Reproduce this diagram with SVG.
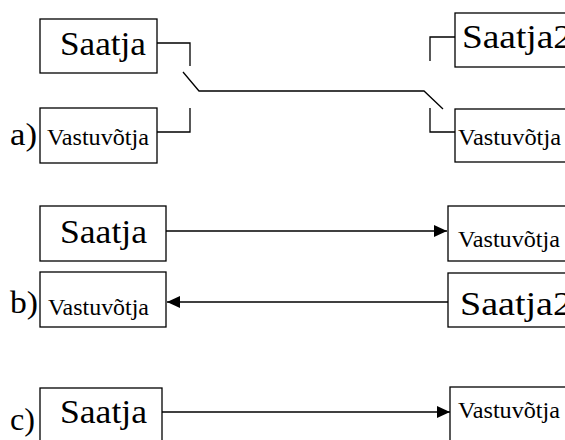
<svg xmlns="http://www.w3.org/2000/svg" width="565" height="440" viewBox="0 0 565 440">
<style>
.box{fill:#fff;stroke:#000;stroke-width:1.3}
.ln{fill:none;stroke:#000;stroke-width:1.3}
.big{font-family:"Liberation Serif","Times New Roman",serif;font-size:33px;fill:#000}
.small{font-family:"Liberation Serif","Times New Roman",serif;font-size:23px;fill:#000}
.lbl{font-family:"Liberation Serif","Times New Roman",serif;font-size:31px;fill:#000}
</style>
<defs>
<marker id="arr" markerUnits="userSpaceOnUse" markerWidth="14" markerHeight="12" refX="13" refY="6" orient="auto">
<path d="M0,0 L13,6 L0,12 z" fill="#000"/>
</marker>
</defs>
<g id="connectors">
<polyline class="ln" points="157,43 190,43 190,66"/>
<polyline class="ln" points="157,132 190,132 190,108"/>
<polyline class="ln" points="183,72 199,91 424,91 443,109"/>
<polyline class="ln" points="455,37 430,37 430,61"/>
<polyline class="ln" points="455,132 430,132 430,108"/>
<line class="ln" x1="166" y1="231" x2="447" y2="231" marker-end="url(#arr)"/>
<line class="ln" x1="448" y1="302" x2="167" y2="302" marker-end="url(#arr)"/>
<line class="ln" x1="162" y1="412" x2="450" y2="412" marker-end="url(#arr)"/>
</g>
<g id="labels">
<text class="lbl" x="10" y="145" textLength="27" lengthAdjust="spacingAndGlyphs">a)</text>
<text class="lbl" x="10" y="313" textLength="28" lengthAdjust="spacingAndGlyphs">b)</text>
<text class="lbl" x="10" y="430" textLength="25" lengthAdjust="spacingAndGlyphs">c)</text>
</g>
<g id="a-saatja">
<rect class="box" x="40" y="19" width="117" height="54"/>
<text class="big" x="60" y="55" textLength="86" lengthAdjust="spacingAndGlyphs">Saatja</text>
</g>
<g id="a-vastuvotja">
<rect class="box" x="40" y="108" width="117" height="55"/>
<text class="small" x="47" y="145" textLength="102" lengthAdjust="spacingAndGlyphs">Vastuvõtja</text>
</g>
<g id="a-saatja2">
<rect class="box" x="455" y="13" width="130" height="54"/>
<text class="big" x="462" y="48" textLength="110" lengthAdjust="spacingAndGlyphs">Saatja2</text>
</g>
<g id="a-vastuvotja2">
<rect class="box" x="455" y="109" width="130" height="53"/>
<text class="small" x="458" y="145" textLength="103" lengthAdjust="spacingAndGlyphs">Vastuvõtja</text>
</g>
<g id="b-saatja">
<rect class="box" x="40" y="206" width="126" height="55"/>
<text class="big" x="60" y="243" textLength="87" lengthAdjust="spacingAndGlyphs">Saatja</text>
</g>
<g id="b-vastuvotja">
<rect class="box" x="448" y="206" width="130" height="55"/>
<text class="small" x="458" y="247" textLength="102" lengthAdjust="spacingAndGlyphs">Vastuvõtja</text>
</g>
<g id="b-vastuvotja2">
<rect class="box" x="40" y="272" width="126" height="55"/>
<text class="small" x="48" y="315" textLength="101" lengthAdjust="spacingAndGlyphs">Vastuvõtja</text>
</g>
<g id="b-saatja2">
<rect class="box" x="448" y="273" width="130" height="54"/>
<text class="big" x="460" y="315" textLength="112" lengthAdjust="spacingAndGlyphs">Saatja2</text>
</g>
<g id="c-saatja">
<rect class="box" x="40" y="388" width="122" height="70"/>
<text class="big" x="60" y="423" textLength="87" lengthAdjust="spacingAndGlyphs">Saatja</text>
</g>
<g id="c-vastuvotja">
<rect class="box" x="450" y="387" width="130" height="70"/>
<text class="small" x="458" y="418" textLength="102" lengthAdjust="spacingAndGlyphs">Vastuvõtja</text>
</g>
</svg>
